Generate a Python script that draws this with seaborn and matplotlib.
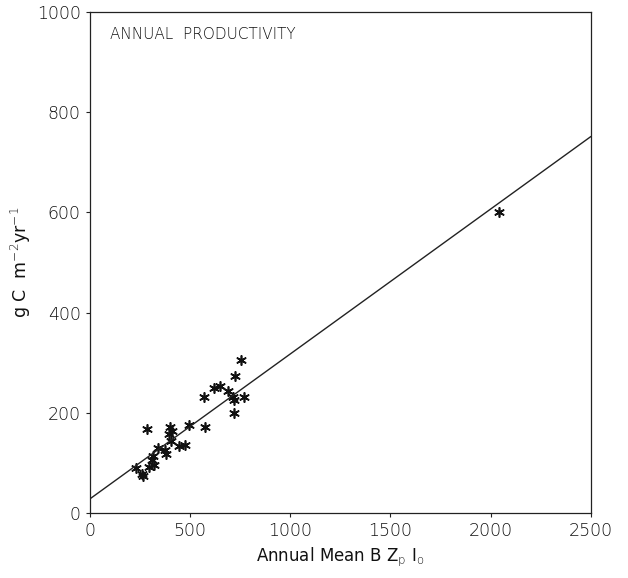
import numpy as np
import pandas as pd
import matplotlib
matplotlib.use("Agg")
import matplotlib.pyplot as plt
import seaborn as sns

# values
mean_bzi = [752, 724, 620, 649, 690, 712, 718, 768, 570, 720,
            286, 399, 408, 396, 494, 574, 403, 446, 477, 338,
            374, 378, 316, 308, 319, 296, 230, 258, 266, 2040]
productivity = [306, 274, 250, 254, 244, 231, 226, 232, 232, 200,
                168, 171, 163, 157, 176, 171, 144, 134, 136, 131,
                126, 118, 114, 106, 96, 93, 90, 78, 74, 600]

# fitted regression line
fit_intercept = 28.5
fit_slope = 0.289
fit_x = [0, 2500]

x_ticks = [0, 500, 1000, 1500, 2000, 2500]
y_ticks = [0, 200, 400, 600, 800, 1000]

sns.set_style("ticks")
plt.rcParams['font.family'] = ['DejaVu Sans']
plt.rcParams['font.weight'] = 'light'

df = pd.DataFrame({'x': mean_bzi, 'y': productivity})
fit = pd.DataFrame({'x': fit_x})
fit['y'] = fit_intercept + fit_slope * fit['x']

fig = plt.figure(figsize=(6.28, 5.78), dpi=100)
ax = fig.add_axes([0.143, 0.112, 0.798, 0.868])

sns.lineplot(data=fit, x='x', y='y', ax=ax, color='#222222', linewidth=1.0)
sns.scatterplot(data=df, x='x', y='y', ax=ax, marker=(6, 2, 0), s=45,
                color='#111111', linewidth=1.2, edgecolor='#111111')

ax.set_xlim(0, 2500)
ax.set_ylim(0, 1000)
ax.set_xticks(x_ticks)
ax.set_yticks(y_ticks)
ax.tick_params(direction='out', length=3, width=0.8, labelsize=12.5,
               colors='#222222', labelcolor='#111111')
for sp in ax.spines.values():
    sp.set_visible(True)
    sp.set_linewidth(0.9)
    sp.set_color('#222222')

ax.set_xlabel(r'Annual Mean B Z$_\mathrm{p}$ I$_\mathrm{o}$', fontsize=12,
              color='#111111', labelpad=4)
ax.set_ylabel(r'g C  m$^{-2}$yr$^{-1}$', fontsize=12.5, color='#111111',
              labelpad=3)
ax.text(0.04, 0.955, 'ANNUAL  PRODUCTIVITY', transform=ax.transAxes,
        fontsize=11, color='#111111', va='center', ha='left')

fig.savefig('out.png', dpi=100)
